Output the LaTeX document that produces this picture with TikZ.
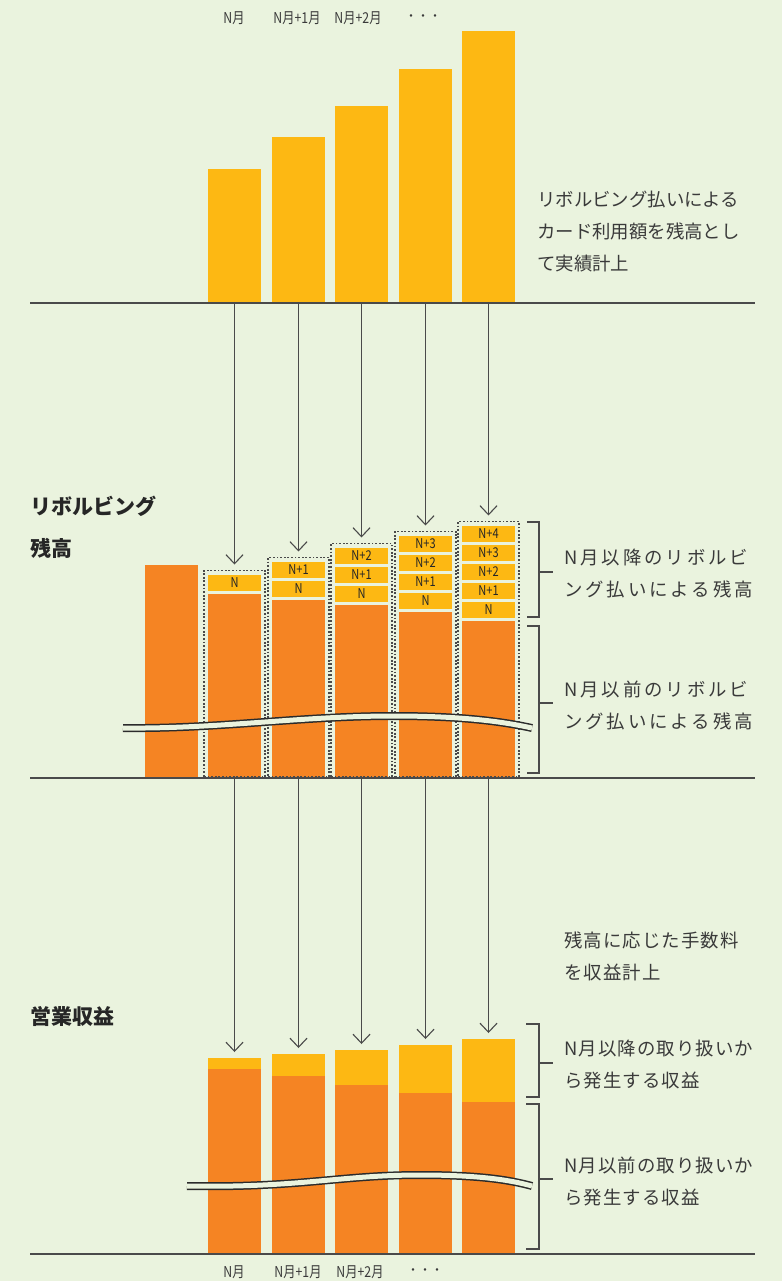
\documentclass[tikz,border=0pt]{standalone}
\usepackage{fontspec}
\setmainfont{Noto Sans CJK JP}
\newfontfamily\jpcond[FakeStretch=0.82]{Noto Sans CJK JP}
\newfontfamily\jpwide[LetterSpace=16]{Noto Sans CJK JP}
\newfontfamily\jpmid[LetterSpace=6]{Noto Sans CJK JP}
\usetikzlibrary{arrows.meta}
\definecolor{bgc}{HTML}{EAF3DE}
\definecolor{cy}{HTML}{FDB813}
\definecolor{co}{HTML}{F58423}
\definecolor{txt}{HTML}{3A3A3A}
\definecolor{ln}{HTML}{4A4A4A}
\definecolor{hdc}{HTML}{262626}
\definecolor{wave}{HTML}{2B2B2B}
\tikzset{
  ybar/.style={fill=cy, draw=none, inner sep=0pt, outer sep=0pt, minimum width=53pt},
  obar/.style={fill=co, draw=none, inner sep=0pt, outer sep=0pt, minimum width=53pt},
  seg/.style={fill=cy, draw=none, inner sep=0pt, outer sep=0pt, minimum width=53pt, minimum height=16pt, text=hdc, font=\jpcond\fontsize{13.5}{14}\selectfont},
  dbox/.style={draw=ln, line width=1.3pt, dash pattern=on 1.8pt off 1.8pt, fill=none, inner sep=0pt, outer sep=0pt, minimum width=61pt},
  arr/.style={draw=ln, line width=1.1pt, -{Straight Barb[length=9pt,width=17pt]}, shorten >=6pt},
  baseln/.style={draw=ln, line width=1.1pt},
  brk/.style={draw=ln, line width=1.1pt},
  body/.style={inner sep=0pt, anchor=west, align=left, text=txt, font=\fontsize{18.4}{32}\selectfont},
  bodywide/.style={body, font=\jpwide\fontsize{18.4}{32}\selectfont},
  bodymid/.style={body, font=\jpmid\fontsize{18.4}{32}\selectfont},
  heading/.style={inner sep=0pt, anchor=west, align=left, text=hdc, font=\bfseries\fontsize{21}{42}\selectfont},
  mlabel/.style={inner sep=0pt, text=txt, font=\jpcond\fontsize{15}{16}\selectfont},
  dots/.style={inner sep=0pt, text=txt, font=\fontsize{12}{12}\selectfont},
  waveout/.style={draw=wave, line width=8pt},
  wavein/.style={draw=bgc, line width=5pt}
}
\begin{document}
\begin{tikzpicture}[x=1pt,y=-1pt]
\useasboundingbox (0,0) rectangle (782,1281);
\fill[bgc] (0,0) rectangle (782,1281);

% ---------- top labels ----------
\node[mlabel] (lt1) at (234,18) {N月};
\node[mlabel] (lt2) at (297,18) {N月+1月};
\node[mlabel] (lt3) at (358,18) {N月+2月};
\node[dots] (lt4) at (423,18) {・・・};

% ---------- top bars ----------
\foreach \i/\x/\t in {1/208/169,2/272/137,3/335/106,4/399/69,5/462/31}{
  \node[ybar, minimum height={303-\t}, anchor=south west] (t\i) at (\x,303) {};
}
\draw[baseln] (30,303) -- (755,303);

\node[body] (toptext) at (537,232) {リボルビング払いによる\\カード利用額を残高とし\\て実績計上};

% ---------- middle section ----------
\node[heading] (h1) at (30,527) {リボルビング\\残高};

\node[obar, minimum height=213pt, anchor=north west] (m0) at (145,565) {};

\foreach \i/\x/\bt/\nb in {1/208/570.5/591, 2/272/557.5/597, 3/335/543.5/602, 4/399/531.5/609, 5/462/521.5/618}{
  \node[obar, minimum height={778-\nb-3}, anchor=north west] (o\i) at (\x,\nb+3) {};
  \node[dbox, minimum height={777-\bt}, anchor=north west] (b\i) at (\x-4,\bt) {};
}

\foreach \i/\x/\nb/\k in {1/208/591/0, 2/272/597/1, 3/335/602/2, 4/399/609/3, 5/462/618/4}{
  \foreach \j in {0,...,\k}{
    \pgfmathsetmacro\st{\nb-16-19*\j}
    \ifnum\j=0 \def\lab{N}\else \def\lab{N+\j}\fi
    \node[seg, anchor=north west] (s\i-\j) at (\x,\st) {\lab};
  }
}

% wave break (middle)
\draw[waveout] (123,728) .. controls (220,729) and (300,716) .. (393,716) .. controls (460,716) and (500,721) .. (532,728);
\draw[wavein] (123,728) .. controls (220,729) and (300,716) .. (393,716) .. controls (460,716) and (500,721) .. (532,728);

\draw[baseln] (30,778) -- (755,778);

% brackets (middle)
\draw[brk] (527,522) -- (539,522) -- (539,617) -- (527,617);
\draw[brk] (539,572) -- (553,572);
\draw[brk] (527,626) -- (539,626) -- (539,773) -- (527,773);
\draw[brk] (539,703) -- (553,703);

\node[bodywide] (mt1) at (564,574) {N月以降のリボルビ\\ング払いによる残高};
\node[bodywide] (mt2) at (564,705.5) {N月以前のリボルビ\\ング払いによる残高};

% arrows top -> middle
\foreach \i in {1,...,5}{
  \draw[arr] (t\i.south) -- (b\i.north);
}

% ---------- bottom section ----------
\node[heading] (h2) at (30,1016) {営業収益};

\foreach \i/\x/\t/\o in {1/208/1058/1069, 2/272/1054/1076, 3/335/1050/1085, 4/399/1045/1093, 5/462/1039/1102}{
  \node[ybar, minimum height={\o-\t}, anchor=north west] (r\i) at (\x,\t) {};
  \node[obar, minimum height={1254-\o}, anchor=north west] (q\i) at (\x,\o) {};
}

\foreach \i in {1,...,5}{
  \draw[arr] (o\i.south) -- (r\i.north);
}

% wave break (bottom)
\draw[waveout] (187,1186) .. controls (300,1188) and (340,1175) .. (420,1175) .. controls (480,1175) and (510,1180) .. (532,1186);
\draw[wavein] (187,1186) .. controls (300,1188) and (340,1175) .. (420,1175) .. controls (480,1175) and (510,1180) .. (532,1186);

\draw[baseln] (30,1254) -- (755,1254);

% brackets (bottom)
\draw[brk] (526,1024) -- (539,1024) -- (539,1097) -- (526,1097);
\draw[brk] (539,1063) -- (553,1063);
\draw[brk] (526,1104) -- (539,1104) -- (539,1249) -- (526,1249);
\draw[brk] (539,1179) -- (553,1179);

\node[bodymid] (bt0) at (564,956) {残高に応じた手数料\\を収益計上};
\node[bodymid] (bt1) at (564,1065) {N月以降の取り扱いか\\ら発生する収益};
\node[bodymid] (bt2) at (564,1181) {N月以前の取り扱いか\\ら発生する収益};

% bottom labels
\node[mlabel] (lb1) at (234,1272) {N月};
\node[mlabel] (lb2) at (298,1272) {N月+1月};
\node[mlabel] (lb3) at (360,1272) {N月+2月};
\node[dots] (lb4) at (425,1272) {・・・};
\end{tikzpicture}
\end{document}
